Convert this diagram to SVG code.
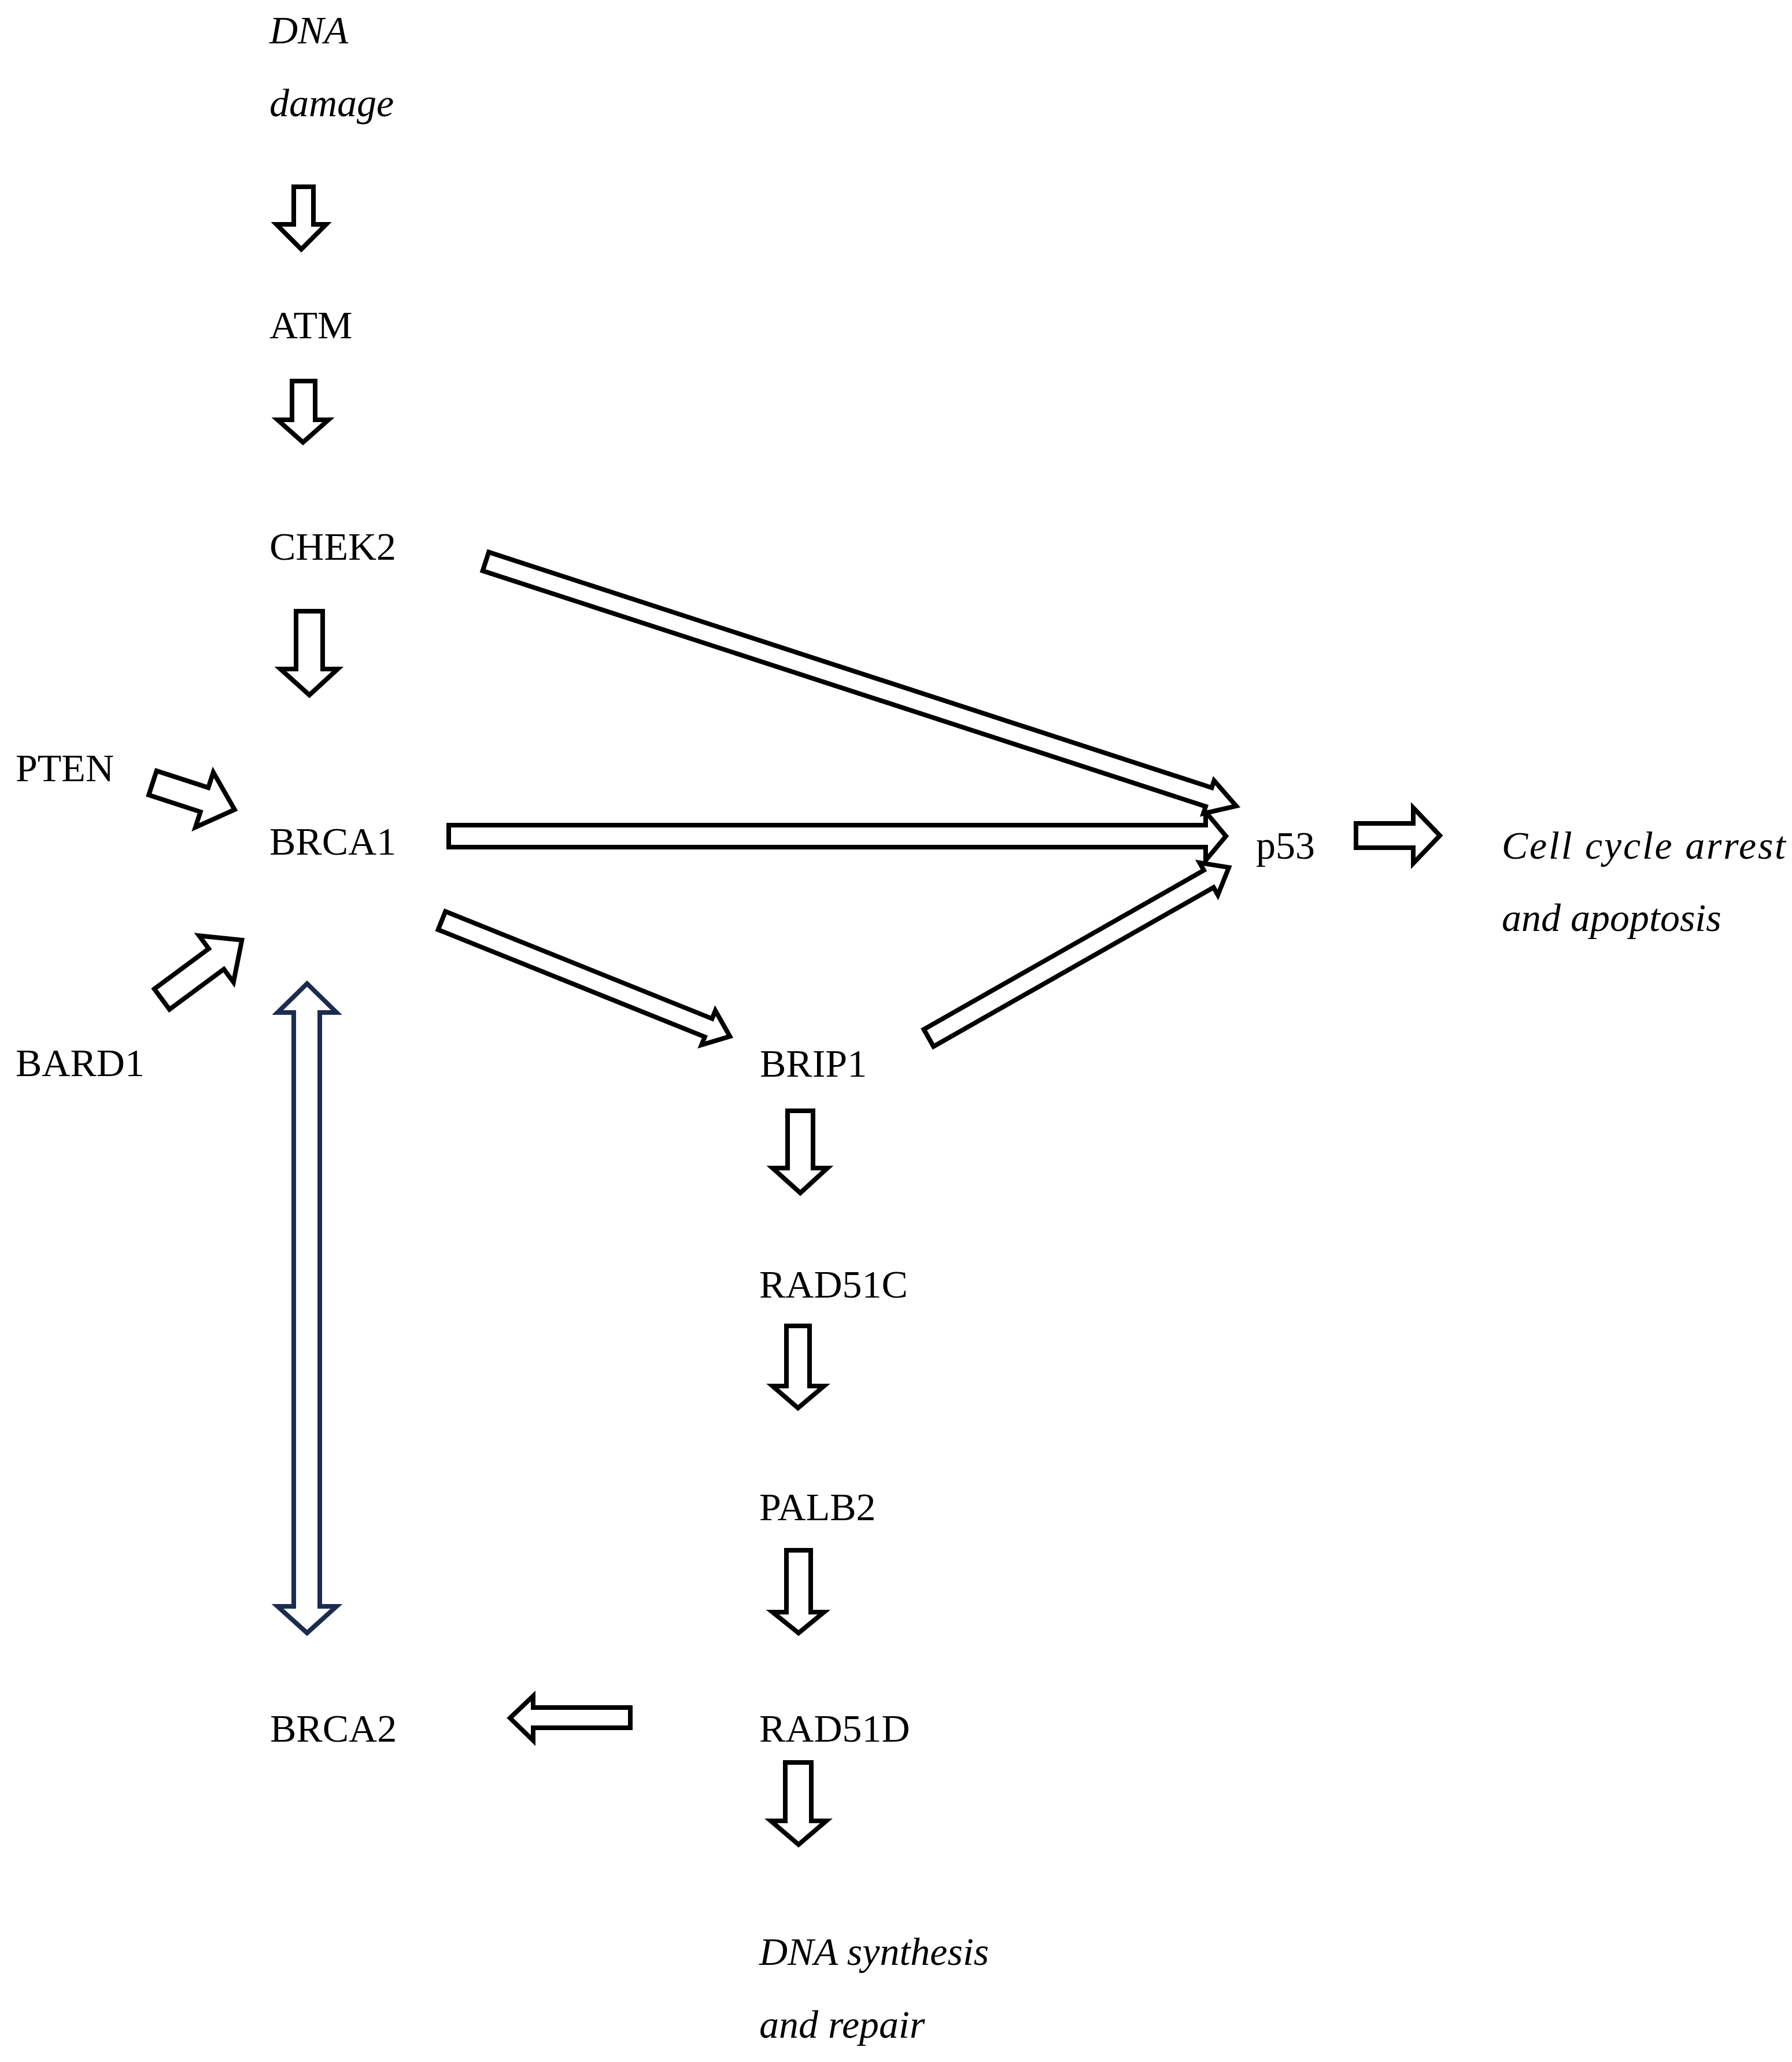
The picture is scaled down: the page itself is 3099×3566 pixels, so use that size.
<svg xmlns="http://www.w3.org/2000/svg" width="3099" height="3566" viewBox="0 0 3099 3566">
<style>
text{font-family:"Liberation Serif","Times New Roman",serif;font-size:68px;fill:#000}
.i{font-style:italic}
.a{fill:#fff;stroke:#000;stroke-width:8;stroke-linejoin:miter}
.b{fill:#fff;stroke:#1b2d4f;stroke-width:8}
</style>
<rect width="3099" height="3566" fill="#fff"/>
<g id="connectors">
<polygon class="a" points="508,323 542,323 542,388 564,388 521,431 478,388 508,388"/>
<polygon class="a" points="505,659 545,659 545,726 568,726 524,765 480,726 505,726"/>
<polygon class="a" points="512,1057 558,1057 558,1157 584,1157 535,1202 485,1157 512,1157"/>
<polygon class="a" transform="translate(840,971) rotate(18.05)" points="0,-17 1315,-17 1315,-30 1365,0 1315,30 1315,17 0,17"/>
<polygon class="a" points="776,1427 2085,1427 2085,1404 2120,1446 2085,1488 2085,1465 776,1465"/>
<polygon class="a" transform="translate(764,1592) rotate(21.9)" points="0,-17 497,-17 497,-32 537,0 497,32 497,17 0,17"/>
<polygon class="a" transform="translate(1606,1795) rotate(-29.6)" points="0,-17 557,-17 557,-32 597,0 557,32 557,17 0,17"/>
<polygon class="a" transform="translate(264,1354) rotate(18)" points="0,-22 94,-22 94,-50 149,0 94,50 94,22 0,22"/>
<polygon class="a" transform="translate(280,1728) rotate(-36.5)" points="0,-22 117,-22 117,-50 172,0 117,50 117,22 0,22"/>
<polygon class="a" points="2345,1424 2444,1424 2444,1397 2490,1445 2444,1493 2444,1466 2345,1466"/>
<polygon class="b" points="531,1701 582,1751 553,1751 553,2778 582,2778 531,2824 480,2778 508,2778 508,1751 480,1751"/>
<polygon class="a" points="1362,1921 1406,1921 1406,2020 1431,2020 1384,2063 1336,2020 1362,2020"/>
<polygon class="a" points="1360,2293 1400,2293 1400,2397 1425,2397 1380,2435 1336,2397 1360,2397"/>
<polygon class="a" points="1360,2681 1402,2681 1402,2788 1425,2788 1381,2824 1336,2788 1360,2788"/>
<polygon class="a" points="1358,3048 1403,3048 1403,3149 1429,3149 1381,3190 1333,3149 1358,3149"/>
<polygon class="a" points="1090,2953 922,2953 922,2933 882,2971 922,3010 922,2988 1090,2988"/>
</g>
<g id="n-dna-damage"><text class="i" x="466" y="75">DNA</text><text class="i" x="466" y="201">damage</text></g>
<g id="n-atm"><text x="466" y="585">ATM</text></g>
<g id="n-chek2"><text x="466" y="968">CHEK2</text></g>
<g id="n-pten"><text x="27" y="1351">PTEN</text></g>
<g id="n-brca1"><text x="466" y="1478">BRCA1</text></g>
<g id="n-bard1"><text x="27" y="1861">BARD1</text></g>
<g id="n-p53"><text x="2172" y="1485">p53</text></g>
<g id="n-cell"><text class="i" x="2597" y="1485" textLength="491" lengthAdjust="spacing">Cell cycle arrest</text><text class="i" x="2597" y="1610">and apoptosis</text></g>
<g id="n-brip1"><text x="1314" y="1862">BRIP1</text></g>
<g id="n-rad51c"><text x="1313" y="2244">RAD51C</text></g>
<g id="n-palb2"><text x="1313" y="2629">PALB2</text></g>
<g id="n-rad51d"><text x="1313" y="3012">RAD51D</text></g>
<g id="n-brca2"><text x="467" y="3012">BRCA2</text></g>
<g id="n-dna-synth"><text class="i" x="1313" y="3398">DNA synthesis</text><text class="i" x="1313" y="3524">and repair</text></g>
</svg>
